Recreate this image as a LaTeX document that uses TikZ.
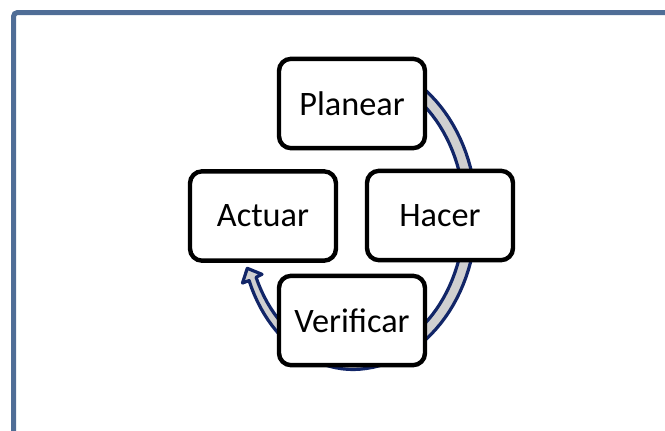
\documentclass[tikz,border=0pt]{standalone}
\usepackage{fontspec}
\setmainfont{Carlito}
\definecolor{framec}{RGB}{79,109,150}
\definecolor{ringline}{RGB}{18,38,104}
\definecolor{ringfill}{RGB}{208,208,208}
\begin{document}
\begin{tikzpicture}[x=0.75pt,y=-0.75pt,
  declare function={dxf(\t)=7*max(0,\t-90)/60; wf(\t)=6-2*max(0,\t-90)/60;},
  stagebox/.style={draw=black, line width=3.3pt, fill=white, rounded corners=9pt,
    minimum width=109.5pt, minimum height=67pt, inner sep=0pt,
    font=\fontsize{25.7pt}{30pt}\selectfont},
  framestyle/.style={draw=framec, line width=3.75pt, rounded corners=3pt},
  ringstyle/.style={draw=ringline, fill=ringfill, line width=2.4pt, line join=round}]
\useasboundingbox (0,0) rectangle (665,430);
% frame
\draw[framestyle] (13.5,445) -- (13.5,12.5) -- (680,12.5);
% circular arrow
\draw[ringstyle]
  plot[domain=-110:154.5, samples=90, variable=\t]
    ({352+(118.5+wf(\t))*cos(\t)+dxf(\t)},{215+(148.5+wf(\t))*sin(\t)})
  -- (242.5,283) -- (247.3,268.3) -- (262,274.3)
  -- plot[domain=154.5:-110, samples=90, variable=\t]
    ({352+(118.5-wf(\t))*cos(\t)+dxf(\t)},{215+(148.5-wf(\t))*sin(\t)})
  -- cycle;
% stages
\node[stagebox] (planear) at (352,103.5) {Planear};
\node[stagebox] (actuar) at (263,216) {Actuar};
\node[stagebox] (hacer) at (440,215.5) {Hacer};
\node[stagebox] (verificar) at (352,320.5) {Verificar};
\end{tikzpicture}
\end{document}
